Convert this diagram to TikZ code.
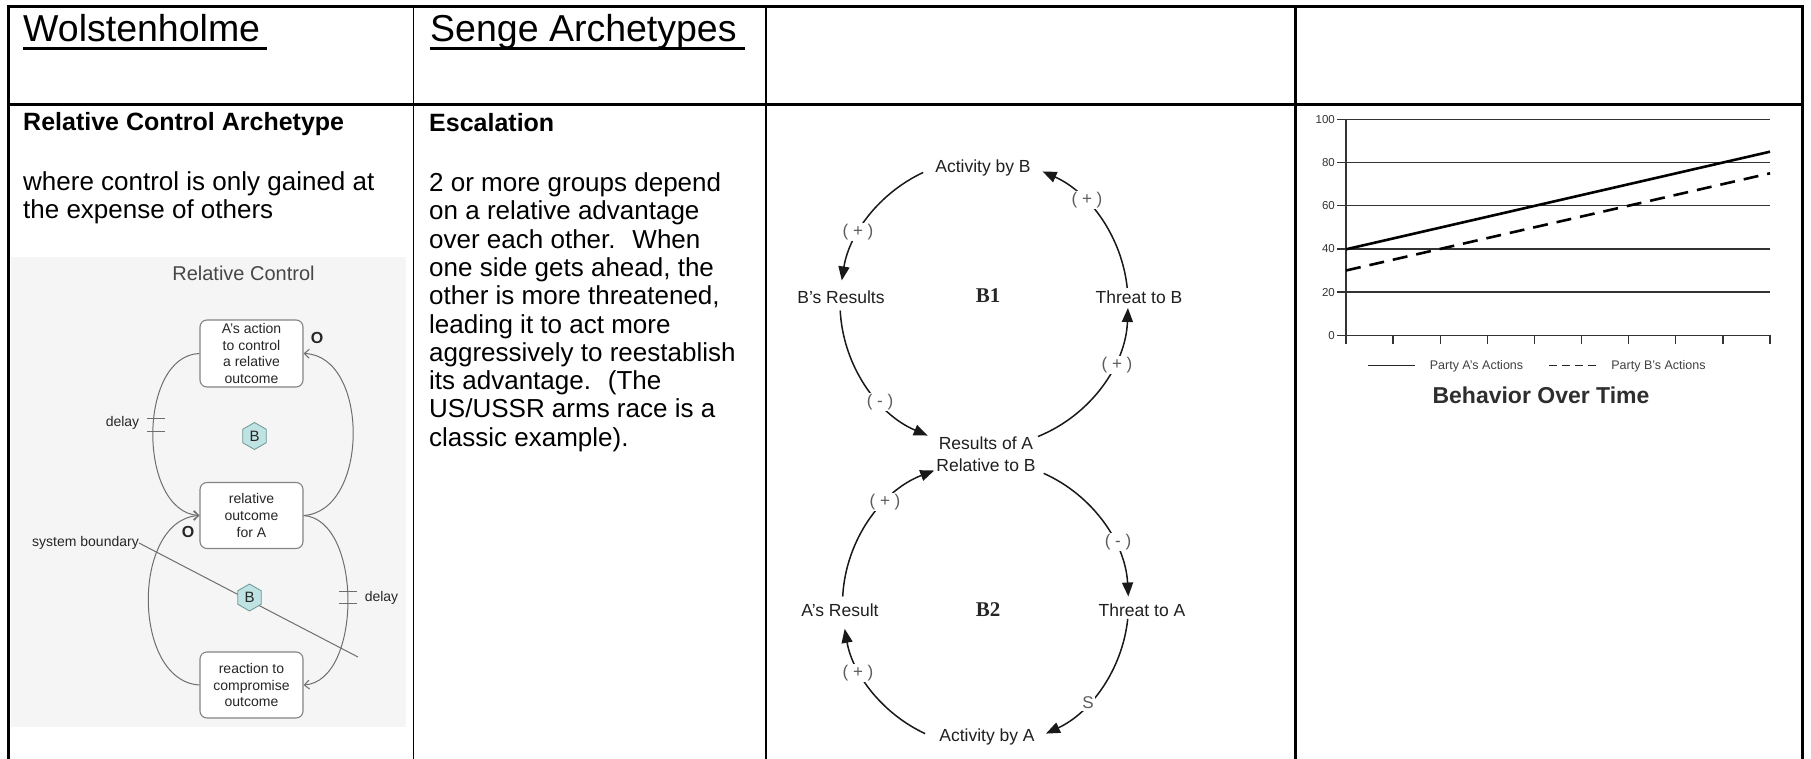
\documentclass[tikz,border=0pt]{standalone}
\usepackage{fontspec}
\setmainfont{Liberation Sans}
\newfontfamily\loopfont{Liberation Serif}
\usetikzlibrary{arrows.meta,shapes.geometric}

\definecolor{rcline}{HTML}{6E6E6E}
\definecolor{rctext}{HTML}{262626}
\definecolor{hexfill}{HTML}{BFE2E2}
\definecolor{hexline}{HTML}{6A9696}
\definecolor{polgray}{HTML}{5C5C5C}
\definecolor{panelbg}{HTML}{F5F5F5}

\newcommand{\fs}[2]{\fontsize{#1}{#2}\selectfont}

\begin{document}
\begin{tikzpicture}[x=1pt,y=-1pt,
  title/.style={font=\fs{37.5}{42}, inner sep=0},
  heading/.style={font=\bfseries\fs{25}{28}, inner sep=0},
  body/.style={font=\fs{26}{28.3}, align=left, inner sep=0},
  rcbox/.style={draw=rcline!85, line width=1.1, rounded corners=7, fill=white,
    minimum width=103, minimum height=66, align=center, inner sep=0,
    text=rctext, font=\fs{14}{16.6}},
  rcarc/.style={draw=rcline, line width=1},
  rctip/.style={-{Straight Barb[length=5pt,width=9pt,line width=1pt]}},
  rclab/.style={font=\fs{14}{16}, text=rctext, inner sep=0},
  hexB/.style={regular polygon, regular polygon sides=6, shape border rotate=30,
    minimum size=27, inner sep=0, fill=hexfill, draw=hexline, line width=0.8,
    font=\fs{15}{15}, text=rctext},
  esclab/.style={font=\fs{17.5}{22}, text=black!88, align=center, inner sep=0},
  looplab/.style={font=\loopfont\bfseries\fs{21}{21}, text=black!85, inner sep=0},
  pollab/.style={font=\fs{17}{17}, text=polgray, fill=white, inner sep=1.5},
  escarc/.style={line width=1.5, draw=black!90, -{Triangle[length=14pt,width=11pt]}},
  gridln/.style={line width=1.3, draw=black!80},
  datln/.style={line width=2.6, draw=black},
  axlab/.style={font=\fs{11.5}{12}, text=black!80, inner sep=0},
  leglab/.style={font=\fs{12.5}{13}, text=black!75, inner sep=0}
]
\useasboundingbox (0,0) rectangle (1811,759);

% ---------------- table frame ----------------
\draw[line width=3] (7,7) -- (1803.5,7);
\draw[line width=3] (7,104.5) -- (1803.5,104.5);
\draw[line width=2.5] (8.5,5.5) -- (8.5,759);
\draw[line width=1.5] (413.5,7) -- (413.5,759);
\draw[line width=1.5] (766,7) -- (766,759);
\draw[line width=3] (1295,7) -- (1295,759);
\draw[line width=3] (1802,5.5) -- (1802,759);

% ---------------- header row ----------------
\node[title, anchor=base west] (hd1) at (23,42) {Wolstenholme};
\draw[line width=2.6] ([yshift=-6.5pt]hd1.base west) -- ++(244,0);
\node[title, anchor=base west] (hd2) at (430,42) {Senge Archetypes};
\draw[line width=2.6] ([yshift=-6.5pt]hd2.base west) -- ++(315,0);

% ---------------- column 1: relative control ----------------
% multi-line nodes: the base anchor sits on the last line
\node[heading, anchor=base west] (rch) at (23,131) {Relative Control Archetype};
\node[body, anchor=base west] (rcb) at (23,218.5)
  {where control is only gained at\\the expense of others};

\fill[panelbg] (11,257) rectangle (406,727);
\node[font=\fs{20}{20}, text=black!72, inner sep=0] (rct) at (243.5,273) {Relative Control};

\node[rcbox, minimum height=67] (b1) at (251.5,353.5) {A's action\\to control\\a relative\\outcome};
\node[rcbox] (b2) at (251.5,515.5) {relative\\outcome\\for A};
\node[rcbox] (b3) at (251.5,685) {reaction to\\compromise\\outcome};

% upper loop
\draw[rcarc,rctip] (b1.west) .. controls +(-62,2) and +(-62,-4) .. (b2.west);
\draw[rcarc,rctip] (b2.east) .. controls +(66,-4) and +(66,2) .. (b1.east);
% lower loop
\draw[rcarc,rctip] (b2.east) .. controls +(59,4) and +(59,-4) .. (b3.east);
\draw[rcarc,rctip] (b3.west) .. controls +(-68,-4) and +(-68,4) .. (b2.west);

% delay marks
\draw[rcarc] (147,418) -- (165,418) (147,431) -- (165,431);
\draw[rcarc] (339,591) -- (357,591) (339,603) -- (357,603);
\node[rclab] (dl1) at (122.5,423) {delay};
\node[rclab] (dl2) at (381.5,598) {delay};

% polarity marks
\node[font=\bfseries\fs{16}{16}, text=rctext, inner sep=0] (o1) at (317,338) {O};
\node[font=\bfseries\fs{16}{16}, text=rctext, inner sep=0] (o2) at (188,532) {O};

% system boundary
\node[rclab] (sb) at (85.5,543) {system boundary};
\coordinate (sbend) at (358,657);
\draw[draw=rcline, line width=1] (sb.east) -- (sbend);

% loop markers
\node[hexB] (h1) at (254.5,436) {B};
\node[hexB] (h2) at (249.5,597.5) {B};

% ---------------- column 2: escalation text ----------------
\node[heading, anchor=base west] (esh) at (429,131.5) {Escalation};
\node[body, anchor=base west] (esb) at (429,446.2)
  {2 or more groups depend\\on a relative advantage\\over each other.~ When\\one side gets ahead, the\\other is more threatened,\\leading it to act more\\aggressively to reestablish\\its advantage.~ (The\\US/USSR arms race is a\\classic example).};

% ---------------- column 3: escalation loops ----------------
\coordinate (c1) at (984,303);
\coordinate (c2) at (985.5,604);

% loop B1
\draw[escarc] ([shift={(245:144)}]c1) arc[start angle=245, end angle=189, radius=144];
\draw[escarc] ([shift={(177:144)}]c1) arc[start angle=177, end angle=113, radius=144];
\draw[escarc] ([shift={(68:144)}]c1) arc[start angle=68, end angle=2, radius=144];
\draw[escarc] ([shift={(-6:144)}]c1) arc[start angle=-6, end angle=-66, radius=144];
% loop B2
\draw[escarc] ([shift={(-66:143)}]c2) arc[start angle=-66, end angle=-3, radius=143];
\draw[escarc] ([shift={(6:143)}]c2) arc[start angle=6, end angle=65, radius=143];
\draw[escarc] ([shift={(115:143)}]c2) arc[start angle=115, end angle=170, radius=143];
\draw[escarc] ([shift={(183:143)}]c2) arc[start angle=183, end angle=249, radius=143];

\node[esclab] (actB) at (983,168) {Activity by B};
\node[esclab] (resB) at (841,297) {B's Results};
\node[esclab] (thrB) at (1139,297) {Threat to B};
\node[esclab] (resAB) at (986,454) {Results of A\\Relative to B};
\node[esclab] (thrA) at (1142,610) {Threat to A};
\node[esclab] (resA) at (840,610) {A's Result};
\node[esclab] (actA) at (987,737) {Activity by A};
\node[looplab] (lb1) at (988,296) {B1};
\node[looplab] (lb2) at (988,610) {B2};

\node[pollab] (p1) at (858,232) {( + )};
\node[pollab] (p2) at (880,402) {( - )};
\node[pollab] (p3) at (1117,365) {( + )};
\node[pollab] (p4) at (1087,200) {( + )};
\node[pollab] (p5) at (1118,542) {( - )};
\node[pollab] (p6) at (1088,703) {S};
\node[pollab] (p7) at (858,673) {( + )};
\node[pollab] (p8) at (885,502) {( + )};

% ---------------- column 4: behaviour over time ----------------
\foreach \v in {20,40,60,80,100}
  \draw[gridln] (1346,{335.3-2.16*\v}) -- (1770,{335.3-2.16*\v});
\foreach \v in {0,20,40,60,80,100} {
  \draw[gridln] (1337,{335.3-2.16*\v}) -- (1346,{335.3-2.16*\v});
  \node[axlab, anchor=east] at (1335,{335.3-2.16*\v}) {\v};
}
\draw[gridln] (1346,119.3) -- (1346,335.3) -- (1770,335.3);
\foreach \k in {0,...,9}
  \draw[gridln] ({1346+47.11*\k},335.3) -- ({1346+47.11*\k},343.5);

\coordinate (a0) at (1346,249.3);
\coordinate (a1) at (1770,151.7);
\coordinate (q0) at (1346,270.5);
\coordinate (q1) at (1770,173.3);
\draw[datln] (a0) -- (a1);
\draw[datln, dash pattern=on 15pt off 9pt] (q0) -- (q1);

% legend
\coordinate (la0) at (1368,365.7);
\coordinate (la1) at (1415,365.7);
\coordinate (lb0) at (1549,365.7);
\coordinate (lb1) at (1596,365.7);
\draw[line width=1.2, draw=black!85] (la0) -- (la1);
\draw[line width=1.2, draw=black!85, dash pattern=on 8pt off 5pt] (lb0) -- (lb1);
\node[leglab] (lga) at (1476.5,366) {Party A's Actions};
\node[leglab] (lgb) at (1658.5,366) {Party B's Actions};
\node[font=\bfseries\fs{23}{23}, text=black!82, inner sep=0] (bot) at (1541,395) {Behavior Over Time};

\end{tikzpicture}
\end{document}
